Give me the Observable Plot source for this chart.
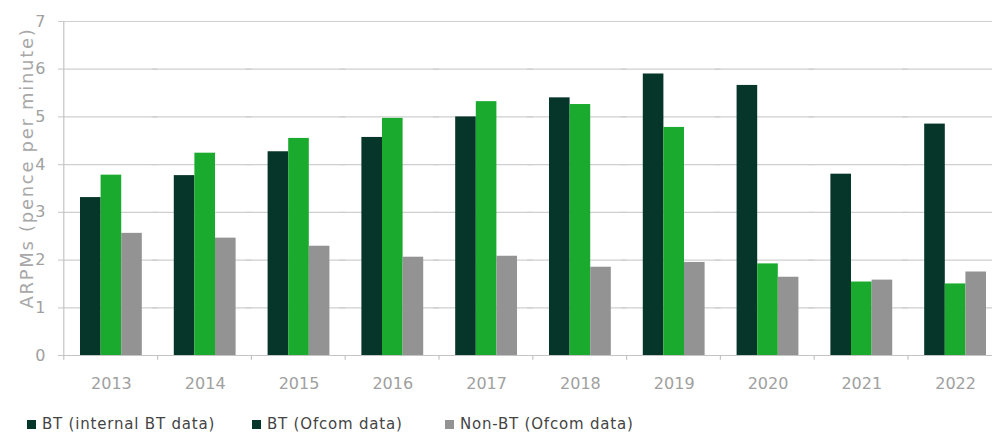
<!DOCTYPE html>
<html>
<head>
<meta charset="utf-8">
<script src="https://cdn.jsdelivr.net/npm/d3@7"></script>
<script src="https://cdn.jsdelivr.net/npm/@observablehq/plot@0.6"></script>
<style>
  html, body { margin: 0; padding: 0; background: #fff; overflow: hidden; width: 992px; height: 434px; }
  #chart { position: relative; height: 400px; }
  #chart svg { display: block; }
  #ylabel { position: absolute; left: 26px; top: 168px; transform: translate(-50%, -50%) rotate(-90deg); white-space: nowrap;
            font-family: "DejaVu Sans", sans-serif; font-size: 18px; letter-spacing: 1.7px; color: #a8a8a8; }
  #legend { position: relative; height: 34px; font-family: "DejaVu Sans", sans-serif; font-size: 15px; letter-spacing: 0.8px; color: #444; }
  .item { position: absolute; top: 16px; display: flex; align-items: center; line-height: 16px; white-space: nowrap; }
  .sw { width: 9px; height: 9px; margin-right: 6px; display: inline-block; }
</style>
</head>
<body>
<div id="chart"></div>
<div id="legend"></div>
<script>
const years = ["2013","2014","2015","2016","2017","2018","2019","2020","2021","2022"];
const btInternal = [3.31, 3.77, 4.27, 4.57, 5.00, 5.40, 5.90, 5.66, 3.80, 4.85];
const btOfcom    = [3.78, 4.24, 4.55, 4.97, 5.32, 5.26, 4.78, 1.92, 1.54, 1.50];
const nonBt      = [2.56, 2.46, 2.29, 2.06, 2.08, 1.85, 1.95, 1.64, 1.58, 1.75];
const seriesNames = ["BT (internal BT data)", "BT (Ofcom data)", "Non-BT (Ofcom data)"];
const seriesColors = ["#06352a", "#1aab2e", "#939393"];
const legendColors = ["#06352a", "#06352a", "#939393"];
const yTicks = [0, 1, 2, 3, 4, 5, 6, 7];
const yLabel = "ARPMs (pence per minute)";

const seriesValues = [btInternal, btOfcom, nonBt];
const data = [];
years.forEach((yr, i) => {
  seriesNames.forEach((s, j) => data.push({year: yr, series: s, value: seriesValues[j][i]}));
});
const yMax = yTicks[yTicks.length - 1];

const chart = Plot.plot({
  width: 992,
  height: 400,
  marginLeft: 64,
  marginRight: 0,
  marginTop: 21,
  marginBottom: 45,
  style: {fontFamily: "DejaVu Sans, sans-serif", fontSize: "16px", color: "#a0a0a0", background: "white", overflow: "hidden"},
  fx: {domain: years, range: [64, 1002], padding: 0, round: false, label: null, axis: "bottom", tickSize: 0, tickPadding: 22},
  x: {domain: seriesNames, paddingInner: 0, paddingOuter: 0.776, round: false, axis: null},
  y: {domain: [0, yMax], ticks: yTicks, tickFormat: "d", tickSize: 0, tickPadding: 19, label: null},
  color: {domain: seriesNames, range: seriesColors},
  marks: [
    Plot.ruleY(yTicks.filter(d => d > 0), {stroke: "#cfcfcf", strokeWidth: 1.2, insetLeft: -6}),
    Plot.barY(data, {fx: "year", x: "series", y: "value", fill: "series"}),
    Plot.ruleY([0], {stroke: "#c4c4c4", strokeWidth: 1.2, insetLeft: -6}),
    Plot.ruleX(years, {fx: d => d, x: () => seriesNames[0], dx: -27, y1: d => d === years[0] ? yMax : 0, y2: -0.1, stroke: "#c4c4c4", strokeWidth: 1.2})
  ]
});
const host = document.getElementById("chart");
host.appendChild(chart);
const yl = document.createElement("div");
yl.id = "ylabel";
yl.textContent = yLabel;
host.appendChild(yl);

const legend = document.getElementById("legend");
const legendX = [27, 252, 445];
seriesNames.forEach((s, i) => {
  const it = document.createElement("div");
  it.className = "item";
  it.style.left = legendX[i] + "px";
  const sw = document.createElement("span");
  sw.className = "sw";
  sw.style.background = legendColors[i];
  const tx = document.createElement("span");
  tx.textContent = s;
  it.appendChild(sw);
  it.appendChild(tx);
  legend.appendChild(it);
});
</script>
</body>
</html>
